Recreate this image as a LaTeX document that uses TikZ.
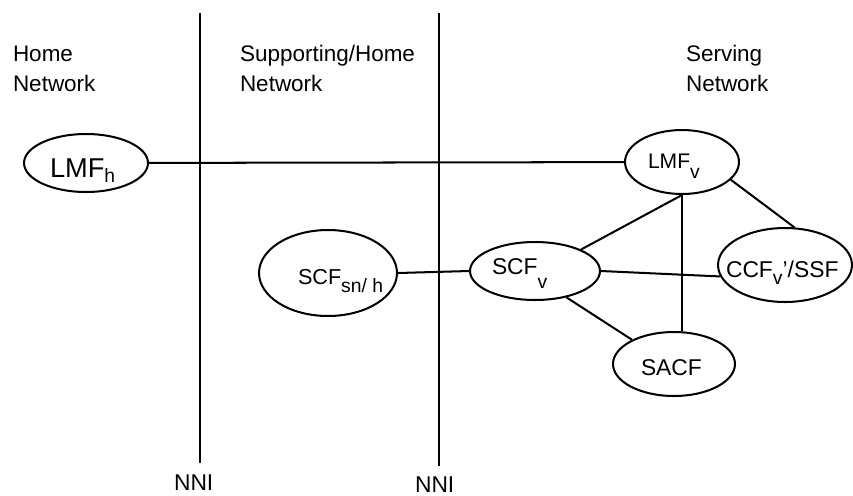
\documentclass[tikz,border=0pt]{standalone}
\usepackage{fontspec}
\setmainfont{Liberation Sans}
\usetikzlibrary{shapes.geometric}
\newcommand{\lowsub}[2]{\raisebox{-#1}{\fontsize{11}{11}\selectfont #2}}

\begin{document}
\begin{tikzpicture}[x=0.02cm,y=-0.02cm,line width=1.15pt,
  fn/.style={draw,ellipse,inner sep=0pt},
  txt/.style={anchor=base west,inner sep=0pt,font=\fontsize{13}{13}\selectfont},
  region/.style={anchor=base west,align=left,inner sep=0pt,font=\fontsize{12.8}{17}\selectfont}]
\useasboundingbox (0,0) rectangle (853,495);
\coordinate (nniAtop) at (200,13);
\coordinate (nniAbot) at (200,463);
\coordinate (nniBtop) at (439,13);
\coordinate (nniBbot) at (439,466);
\draw (nniAtop) -- (nniAbot);
\draw (nniBtop) -- (nniBbot);
\node[txt] (nniA) at (173,490) {NNI};
\node[txt] (nniB) at (414,492) {NNI};
\node[region] (home) at (12,91) {Home\\Network};
\node[region] (supp) at (239,91) {Supporting/Home\\Network};
\node[region] (serv) at (685,91) {Serving\\Network};
\node[fn,minimum width=2.48cm,minimum height=1.16cm] (LMFh) at (86,163) {};
\node[fn,minimum width=2.28cm,minimum height=1.28cm] (LMFv) at (682,162) {};
\node[fn,minimum width=2.76cm,minimum height=1.72cm] (SCFsnh) at (328,273) {};
\node[fn,minimum width=2.6cm,minimum height=1.16cm] (SCFv) at (535,271) {};
\node[fn,minimum width=2.68cm,minimum height=1.48cm] (CCF) at (785,265) {};
\node[fn,minimum width=2.44cm,minimum height=1.28cm] (SACF) at (674,364) {};
\node[txt,font=\fontsize{15.5}{15}\selectfont] (LMFhlab) at (49,177) {LMF\lowsub{3.4pt}{h}};
\node[txt,font=\fontsize{12}{12}\selectfont] (LMFvlab) at (647,168) {LMF\lowsub{6pt}{v}};
\node[txt,font=\fontsize{12.3}{12}\selectfont] (SCFsnhlab) at (297,284) {SCF\lowsub{5pt}{sn/ h}};
\node[txt] (SCFvlab) at (491,274) {SCF\lowsub{8pt}{v}};
\node[txt] (CCFlab) at (725,277) {CCF\lowsub{4.5pt}{v}'/SSF};
\node[txt] (SACFlab) at (640,375) {SACF};
\draw (LMFh) -- (LMFv);
\draw (SCFsnh.east) -- (SCFv.west);
\draw (SCFv.25) -- (LMFv.south);
\draw (LMFv.south) -- (LMFv.south |- SACF.north);
\draw (LMFv.-20) -- (CCF.76);
\draw (SCFv.east) -- (CCF.190);
\draw (SCFv.-40) -- (SACF.150);
\end{tikzpicture}
\end{document}
